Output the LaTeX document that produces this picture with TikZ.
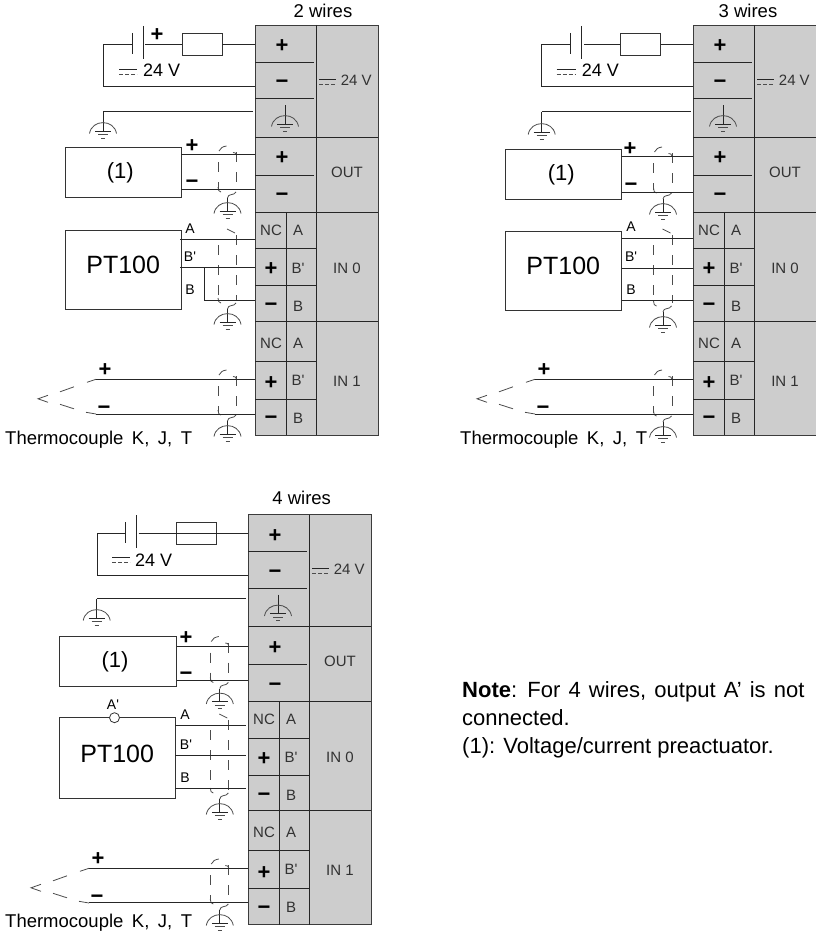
\documentclass[tikz,border=0pt]{standalone}
\usepackage{fontspec}
\setmainfont{Liberation Sans}
\usepackage{tikz}
\usetikzlibrary{positioning}

\definecolor{blockgray}{RGB}{205,205,205}
\definecolor{framegray}{RGB}{60,60,60}
\definecolor{labelgray}{RGB}{50,50,50}
\newcommand{\Bp}{B\textquotesingle}

\tikzset{
	Wire/.style		= {line width=0.9pt, black!85},
	Thin/.style		= {line width=0.8pt, black!70},
	Box/.style		= {rectangle, draw=black!80, line width=0.9pt, inner sep=0pt},
	Fuse/.style		= {Box, minimum width=40pt, minimum height=22pt},
	Sign/.style		= {inner sep=0pt, text height=15pt, text depth=0pt, font=\fontsize{22}{24}\bfseries\selectfont},
	Tiny/.style		= {inner sep=0pt, text=labelgray, font=\fontsize{15}{17}\selectfont},
	Pin/.style		= {inner sep=0pt, font=\fontsize{14}{16}\selectfont},
	Volt/.style		= {inner sep=0pt, anchor=west, font=\fontsize{18}{20}\selectfont},
	Caption/.style	= {inner sep=0pt, font=\fontsize{18.5}{20}\selectfont},
	Probe/.style	= {inner sep=0pt, anchor=west, font={\fontsize{18.5}{20}\selectfont\spaceskip=.46em\relax}},
	Big/.style		= {text height=18pt, text depth=10pt, font=\fontsize{25}{28}\selectfont},
	Mid/.style		= {font=\fontsize{22}{26}\selectfont},
	% earth symbol, the argument is the length of its stem
	pics/Earth/.style = {code={
		\draw [Wire] (0,-#1) -- (0,0);
		\draw [Thin] (-13.5,2.5) .. controls (-11,-12) and (11,-12) .. (13.5,2.5);
		\draw [Wire] (-8,0) -- (8,0);
		\draw [Thin] (-5,3.5) -- (5,3.5);
		\draw [Thin] (-2,7) -- (2,7);
	}},
	pics/DC/.style = {code={
		\draw [Wire] (0,0) -- (#1,0);
		\draw [Thin, dash pattern=on 4pt off 2pt] (0,5) -- (#1,5);
	}},
	pics/Cell/.style = {code={
		\draw [Wire] (0,-11) -- (0,10);
		\draw [Wire] (11,-18) -- (11,15);
	}},
	% cable screen, the argument is its height
	pics/ScreenBody/.style = {code={
		\draw [Thin, dash pattern=on 10pt off 10pt, dash phase=10pt] (0,6) -- (0,#1-3);
		\draw [Thin, dash pattern=on 10pt off 10pt] (18.5,6) -- (18.5,#1-3);
		\draw [Thin] (0,#1-5) .. controls (0,#1-2) and (1,#1) .. (3,#1);
		\draw [Thin] (18,#1) .. controls (16,#1+4) and (10,#1+1) .. (9.5,#1+6);
		\pic at (9.5,#1+19) {Earth=13};
	}},
	pics/ScreenShort/.style = {code={
		\pic {ScreenBody=#1};
		\draw [Thin] (1,5) .. controls (2,2) and (5,0.5) .. (8.5,0);
		\draw [Thin] (15,6.5) .. controls (17,6.5) and (18,7) .. (18.5,9);
	}},
	pics/ScreenLong/.style = {code={
		\pic {ScreenBody=#1};
		\draw [Thin] (9,0) -- (17,4);
	}},
	pics/Couple/.style = {code={
		\draw [Thin] (-9,3) -- (0,0);
		\draw [Thin] (-36,12.5) -- (-22,7.5);
		\draw [Thin] (-48,16) -- (-58,19.5) -- (-48,23);
		\draw [Thin] (-36,25) -- (-22,29.5);
		\draw [Thin] (-10,33) -- (0,34.7);
		\node (p) at (9,-10) [Sign] {+};
		\node (m) at (8,27.7) [Sign] {−};
	}},
	pics/Terminals/.style = {code={
		\fill [blockgray] (0,0) rectangle (123,410);
		\draw [Wire, draw=framegray] (0,0) rectangle (123,410);
		\draw [Wire] (61,0) -- (61,410);
		\draw [Wire] (31,187) -- (31,410);
		\foreach \py in {112,187,296}
			\draw [Wire] (0,\py) -- (123,\py);
		\foreach \py in {37,73.5,150}
			\draw [Wire] (0,\py) -- (59,\py);
		\foreach \py in {223.7,260.7,336,374}
			\draw [Wire] (0,\py) -- (61,\py);
		\foreach \px/\py/\ptxt [count=\n] in {27/20/+, 27/56/−, 27/132/+, 27/169/−, 16/243/+, 16/279/−, 16/357/+, 16/392/−}
			\node (s\n) at (\px,\py) [Sign] {\ptxt};
		\foreach \px/\py/\ptxt [count=\n] in {16/205/NC, 43/205/A, 43/243/\Bp, 43/281/B, 16/318/NC, 43/318/A, 43/355/\Bp, 43/393/B, 92/147/OUT, 92/243/IN 0, 92/356/IN 1}
			\node (t\n) at (\px,\py) [Tiny] {\ptxt};
		\pic at (64.3,54.3) {DC=16.5};
		\node (v) at (85.7,55) [Tiny, anchor=west] {24 V};
		\pic at (30,99) {Earth=19};
	}}
}

\begin{document}
\begin{tikzpicture}[x=1pt, y=-1pt]
	\useasboundingbox (0,0) rectangle (816,934);

	% 2 wires
	\begin{scope}[name prefix=a-]
		\node (title) at (323,11) [Caption] {2 wires};
		\pic (block) at (255,25) {Terminals};

		\pic at (132,44) {Cell};
		\node (fuse) at (202,44) [Fuse] {};
		\node (sup) at (157,34.5) [Sign] {+};
		\pic at (119,69) {DC=18};
		\node (volt) at (143,70) [Volt] {24 V};
		\coordinate (cellL) at (132,44);
		\coordinate (cellR) at (145,44);
		\coordinate (turn) at (103,44);
		\coordinate (pos) at (255,44);
		\coordinate (neg) at (255,86);
		\coordinate (pe) at (253,111.5);
		\coordinate (peL) at (103,111.5);
		\pic at (103,131) {Earth=19.5};

		\node (act) at (123.2,172.5) [Box, Mid, minimum width=116pt, minimum height=50pt] {(1)\kern6pt};
		\node (actP) at (192,145) [Sign] {+};
		\node (actM) at (192,181) [Sign] {−};
		\coordinate (o1) at (181,154);
		\coordinate (o2) at (255,154);
		\coordinate (o3) at (181,189);
		\coordinate (o4) at (255,189);
		\pic at (218,146) {ScreenShort=46};

		\node (pt) at (123.2,269.5) [Box, Big, minimum width=116pt, minimum height=79pt] {PT100};
		\node (lA) at (190,229) [Pin] {A};
		\node (lBp) at (190,257) [Pin] {\Bp};
		\node (lB) at (190,290) [Pin] {B};
		\coordinate (i1) at (180,239.5);
		\coordinate (i2) at (255,239.5);
		\coordinate (i3) at (180,267.7);
		\coordinate (i4) at (255,267.7);
		\coordinate (i5) at (204,267.7);
		\coordinate (i6) at (204,300.5);
		\coordinate (i7) at (255,300.5);
		\pic at (218,229) {ScreenLong=74};

		\pic (tc) at (96,379.3) {Couple};
		\coordinate (c1) at (96,379.3);
		\coordinate (c2) at (255,379.3);
		\coordinate (c3) at (96,414);
		\coordinate (c4) at (255,414);
		\pic at (218,370) {ScreenShort=45};
		\node (kjt) at (5,440) [Probe] {Thermocouple K, J, T};

		\foreach \a/\b in {cellR/fuse, fuse/pos, pe/peL, o1/o2, o3/o4, i1/i2, i3/i4, i5/i6, i6/i7, c1/c2, c3/c4}
			\draw [Wire] (\a) -- (\b);
		\draw [Wire] (cellL) -- (turn) |- (neg);
	\end{scope}

	% 3 wires
	\begin{scope}[name prefix=b-]
		\node (title) at (748,11) [Caption] {3 wires};
		\pic (block) at (693,25) {Terminals};

		\pic at (570.3,44) {Cell};
		\node (fuse) at (640.8,44) [Fuse] {};
		\pic at (556.7,69) {DC=19};
		\node (volt) at (581.7,70) [Volt] {24 V};
		\coordinate (cellL) at (570.3,44);
		\coordinate (cellR) at (584,44);
		\coordinate (turn) at (541.7,44);
		\coordinate (pos) at (693,44);
		\coordinate (neg) at (693,86);
		\coordinate (pe) at (690.7,111.5);
		\coordinate (peL) at (541.7,111.5);
		\pic at (541.7,132) {Earth=20.5};

		\node (act) at (563.3,174.5) [Box, Mid, minimum width=116.7pt, minimum height=50pt] {(1)\kern4pt};
		\node (actP) at (630,148) [Sign] {+};
		\node (actM) at (631,184) [Sign] {−};
		\coordinate (o1) at (621.7,156);
		\coordinate (o2) at (693,156);
		\coordinate (o3) at (621.7,192);
		\coordinate (o4) at (693,192);
		\pic at (653.5,147) {ScreenShort=46};

		\node (pt) at (563.3,270.8) [Box, Big, minimum width=116.7pt, minimum height=78.5pt] {PT100};
		\node (lA) at (631,227) [Pin] {A};
		\node (lBp) at (631,257) [Pin] {\Bp};
		\node (lB) at (631,290) [Pin] {B};
		\coordinate (i1) at (621.7,238.3);
		\coordinate (i2) at (693,238.3);
		\coordinate (i3) at (621.7,268.7);
		\coordinate (i4) at (693,268.7);
		\coordinate (i5) at (621.7,300.7);
		\coordinate (i6) at (693,300.7);
		\pic at (653.5,229) {ScreenLong=77};

		\pic (tc) at (535,379.3) {Couple};
		\coordinate (c1) at (535,379.3);
		\coordinate (c2) at (693,379.3);
		\coordinate (c3) at (535,414);
		\coordinate (c4) at (693,414);
		\pic at (653.5,370) {ScreenShort=46};
		\node (kjt) at (460,440) [Probe] {Thermocouple K, J, T};

		\foreach \a/\b in {cellR/fuse, fuse/pos, pe/peL, o1/o2, o3/o4, i1/i2, i3/i4, i5/i6, c1/c2, c3/c4}
			\draw [Wire] (\a) -- (\b);
		\draw [Wire] (cellL) -- (turn) |- (neg);
	\end{scope}

	% 4 wires
	\begin{scope}[name prefix=c-]
		\node (title) at (301.7,498) [Caption] {4 wires};
		\pic (block) at (248,514.5) {Terminals};

		\pic at (125,533.3) {Cell};
		\node (fuse) at (196,533.3) [Fuse] {};
		\pic at (112,557.5) {DC=18};
		\node (volt) at (135,560) [Volt] {24 V};
		\coordinate (cellL) at (125,533.3);
		\coordinate (cellR) at (138.5,533.3);
		\coordinate (turn) at (97.7,533.3);
		\coordinate (pos) at (248,533.3);
		\coordinate (neg) at (248,575.7);
		\coordinate (pe) at (245.5,598.7);
		\coordinate (peL) at (96.7,598.7);
		\pic at (96.7,618) {Earth=19.5};

		\node (act) at (118,661.5) [Box, Mid, minimum width=117.4pt, minimum height=50.4pt] {(1)\kern6pt};
		\node (actP) at (186,637) [Sign] {+};
		\node (actM) at (186,673) [Sign] {−};
		\coordinate (o1) at (176.7,646);
		\coordinate (o2) at (248,646);
		\coordinate (o3) at (176.7,680.7);
		\coordinate (o4) at (248,680.7);
		\pic at (210.3,636.5) {ScreenShort=46};

		\node (pt) at (117.2,758) [Box, Big, minimum width=116.3pt, minimum height=80.6pt] {PT100};
		\node (lAp) at (113,704.5) [Pin] {A\textquotesingle};
		\node (gap) at (114.5,717.7) [circle, draw=black!80, line width=0.8pt, fill=white, minimum size=10pt, inner sep=0pt] {};
		\node (lA) at (185,714.5) [Pin] {A};
		\node (lBp) at (186,745) [Pin] {\Bp};
		\node (lB) at (185,778) [Pin] {B};
		\coordinate (i1) at (175.3,725);
		\coordinate (i2) at (246,725);
		\coordinate (i3) at (175.3,755.7);
		\coordinate (i4) at (246,755.7);
		\coordinate (i5) at (175.3,788.7);
		\coordinate (i6) at (246,788.7);
		\pic at (210.3,714) {ScreenLong=79};

		\pic (tc) at (89,868.3) {Couple};
		\coordinate (c1) at (89,868.3);
		\coordinate (c2) at (248,868.3);
		\coordinate (c3) at (89,902.7);
		\coordinate (c4) at (248,902.7);
		\pic at (210.3,859) {ScreenShort=45};
		\node (kjt) at (5,922.7) [Probe] {Thermocouple K, J, T};

		\foreach \a/\b in {cellR/pos, pe/peL, o1/o2, o3/o4, i1/i2, i3/i4, i5/i6, c1/c2, c3/c4}
			\draw [Wire] (\a) -- (\b);
		\draw [Wire] (cellL) -- (turn) |- (neg);
	\end{scope}

	\node (note) at (462,720) [anchor=west, inner sep=0pt, align=left, font=\fontsize{22}{28}\selectfont] {{\spaceskip=.37em\relax\textbf{Note}: For 4 wires, output A’ is not}\\connected.\\(1): Voltage/current preactuator.};
\end{tikzpicture}
\end{document}
